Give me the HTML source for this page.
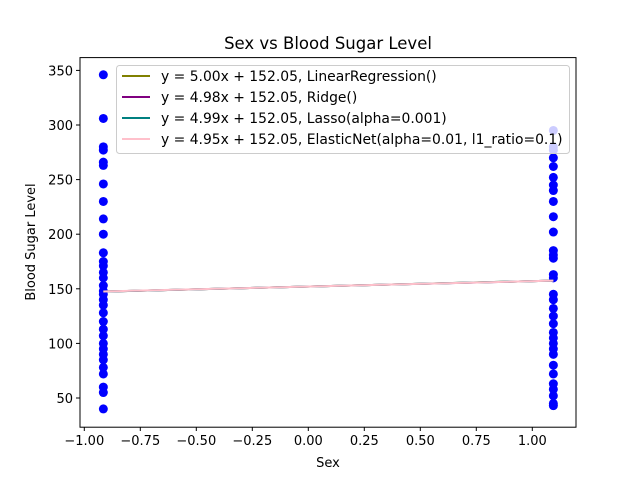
<!DOCTYPE html>
<html><head><meta charset="utf-8"><style>body{margin:0;background:#fff}svg{display:block;font-family:"DejaVu Sans","Liberation Sans",sans-serif}</style></head>
<body>
<svg id="chart" width="640" height="480"></svg>
<script>
const leftX = -0.915, rightX = 1.094;
const leftValues = [346,306,280,277,266,263,246,230,214,200,183,175,171,165,160,153,148,145,140,135,128,120,113,107,100,95,90,85,78,72,60,55,40];
const rightValues = [295,280,277,270,262,252,245,240,230,216,202,185,181,178,163,160,145,140,132,125,118,110,105,100,95,90,80,72,63,58,52,45,43];
const xTicks = [-1,-0.75,-0.5,-0.25,0,0.25,0.5,0.75,1];
const yTicks = [50,100,150,200,250,300,350];
const slopes = [5.00,4.98,4.99,4.95];
const intercepts = [152.05,152.05,152.05,152.05];
const colors = ['#808000','#800080','#008080','#ffc0cb'];
const labels = ['y = 5.00x + 152.05, LinearRegression()','y = 4.98x + 152.05, Ridge()','y = 4.99x + 152.05, Lasso(alpha=0.001)','y = 4.95x + 152.05, ElasticNet(alpha=0.01, l1_ratio=0.1)'];

const NS='http://www.w3.org/2000/svg', svg=document.getElementById('chart');
const X=v=>308.3+v*224, Y=v=>398-(v-50)*1.092;
function el(t,a,p){const e=document.createElementNS(NS,t);for(const k in a)e.setAttribute(k,a[k]);(p||svg).appendChild(e);return e;}
let t=el('text',{x:328,y:49,'text-anchor':'middle','font-size':16.5});t.textContent='Sex vs Blood Sugar Level';


leftValues.forEach(v=>{const c=el('circle',{cx:X(leftX),cy:Y(v),r:4.5,fill:'#0000ff'});

});
rightValues.forEach(v=>{const c=el('circle',{cx:X(rightX),cy:Y(v),r:4.5,fill:'#0000ff'});

});
slopes.forEach((s,i)=>{const l=el('line',{x1:X(leftX),y1:Y(s*leftX+intercepts[i]),x2:X(rightX),y2:Y(s*rightX+intercepts[i]),stroke:colors[i],'stroke-width':2});

});
const ax=el('rect',{x:80,y:57.6,width:496,height:369.6,fill:'none',stroke:'#000','stroke-width':1});


xTicks.forEach(v=>{el('line',{x1:X(v),x2:X(v),y1:427,y2:431,stroke:'#000'});const tt=el('text',{x:X(v),y:445,'text-anchor':'middle','font-size':13});tt.textContent=(v<0?'\u2212':'')+Math.abs(v).toFixed(2);

});
yTicks.forEach(v=>{el('line',{x1:76,x2:80,y1:Y(v),y2:Y(v),stroke:'#000'});const tt=el('text',{x:73,y:Y(v)+5,'text-anchor':'end','font-size':13});tt.textContent=v;

});
t=el('text',{x:328,y:467,'text-anchor':'middle','font-size':13});t.textContent='Sex';


t=el('text',{x:35,y:242,'text-anchor':'middle','font-size':13,transform:'rotate(-90 35 242)'});t.textContent='Blood Sugar Level';


const lg=el('g',{});


el('rect',{x:116.5,y:65.5,width:453,height:88,rx:3,fill:'#fff','fill-opacity':0.8,stroke:'#ccc'},lg);
labels.forEach((s,i)=>{const y=76+i*21;el('line',{x1:122,x2:150,y1:y,y2:y,stroke:colors[i],'stroke-width':2},lg);const tt=el('text',{x:161,y:y+5,'font-size':13.9},lg);tt.textContent=s;

});
</script>
</body></html>
